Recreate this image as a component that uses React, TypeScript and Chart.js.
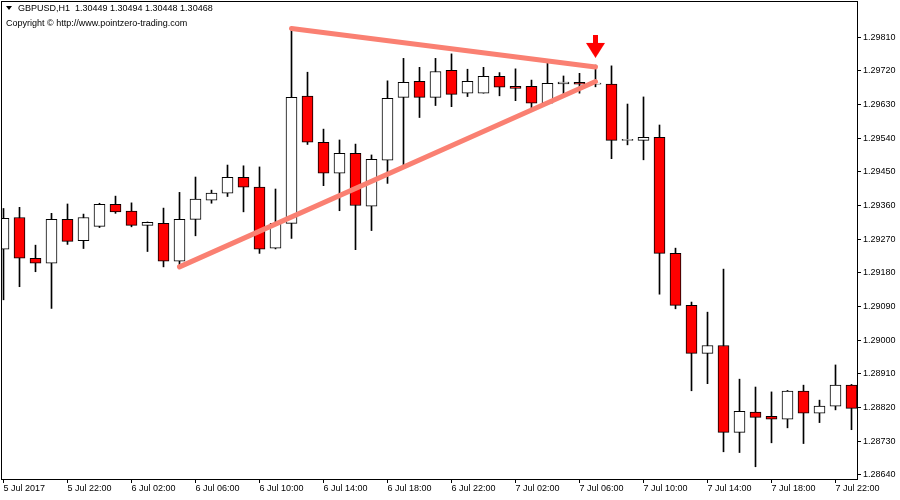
import React, { useEffect, useRef } from 'react';
import { Chart, registerables } from 'chart.js';

Chart.register(...registerables);

// ---- Data (GBPUSD H1, 5 Jul 18:00 -> 7 Jul 23:00) ----
const opens = [
  1.29243, 1.29328, 1.29219, 1.29206, 1.29323, 1.29266, 1.29304, 1.29363, 1.29345, 1.29307,
  1.29312, 1.29211, 1.29323, 1.29374, 1.29393, 1.29435, 1.29409, 1.29246, 1.29312, 1.29652,
  1.29529, 1.29446, 1.29499, 1.29358, 1.29481, 1.29649, 1.29692, 1.29649, 1.29721, 1.29660,
  1.29660, 1.29705, 1.29678, 1.29678, 1.29633, 1.29685, 1.29689, 1.29684, 1.29684, 1.29534,
  1.29534, 1.29542, 1.29232, 1.29093, 1.28965, 1.28986, 1.28754, 1.28808, 1.28797, 1.28789,
  1.28864, 1.28805, 1.28824, 1.28880,
];
const highs = [
  1.29352, 1.29355, 1.29254, 1.29339, 1.29364, 1.29337, 1.29366, 1.29385, 1.29367, 1.29316,
  1.29353, 1.29395, 1.29436, 1.29401, 1.29468, 1.29466, 1.29463, 1.29404, 1.29833, 1.29716,
  1.29564, 1.29535, 1.29524, 1.29495, 1.29693, 1.29753, 1.29729, 1.29753, 1.29765, 1.29724,
  1.29729, 1.29715, 1.29725, 1.29695, 1.29745, 1.29706, 1.29713, 1.29735, 1.29733, 1.29631,
  1.29650, 1.29575, 1.29246, 1.29102, 1.29075, 1.29190, 1.28896, 1.28875, 1.28862, 1.28866,
  1.28880, 1.28840, 1.28934, 1.28882,
];
const lows = [
  1.29108, 1.29143, 1.29183, 1.29085, 1.29256, 1.29245, 1.29301, 1.29339, 1.29303, 1.29237,
  1.29196, 1.29192, 1.29279, 1.29366, 1.29384, 1.29343, 1.29232, 1.29244, 1.29272, 1.29523,
  1.29413, 1.29346, 1.29242, 1.29293, 1.29419, 1.29468, 1.29595, 1.29627, 1.29624, 1.29651,
  1.29660, 1.29653, 1.29640, 1.29612, 1.29633, 1.29651, 1.29660, 1.29677, 1.29485, 1.29522,
  1.29482, 1.29123, 1.29084, 1.28865, 1.28884, 1.28702, 1.28700, 1.28662, 1.28726, 1.28766,
  1.28724, 1.28780, 1.28814, 1.28761,
];
const closes = [
  1.29326, 1.29219, 1.29206, 1.29323, 1.29264, 1.29328, 1.29363, 1.29343, 1.29307, 1.29315,
  1.29211, 1.29323, 1.29377, 1.29393, 1.29435, 1.29409, 1.29243, 1.29312, 1.29649, 1.29529,
  1.29446, 1.29499, 1.29360, 1.29483, 1.29646, 1.29689, 1.29649, 1.29718, 1.29657, 1.29692,
  1.29705, 1.29676, 1.29673, 1.29633, 1.29686, 1.29690, 1.29684, 1.29684, 1.29534, 1.29534,
  1.29542, 1.29232, 1.29093, 1.28965, 1.28986, 1.28754, 1.28810, 1.28794, 1.28789, 1.28864,
  1.28805, 1.28824, 1.28880, 1.28818,
];

// x tick positions (bar index) and labels
const xTickBars = [0, 4, 8, 12, 16, 20, 24, 28, 32, 36, 40, 44, 48, 52];
const xTickLabels = [
  '5 Jul 2017', '5 Jul 22:00', '6 Jul 02:00', '6 Jul 06:00', '6 Jul 10:00', '6 Jul 14:00',
  '6 Jul 18:00', '6 Jul 22:00', '7 Jul 02:00', '7 Jul 06:00', '7 Jul 10:00', '7 Jul 14:00',
  '7 Jul 18:00', '7 Jul 22:00',
];
const yTicks = [
  1.2864, 1.2873, 1.2882, 1.2891, 1.29, 1.2909, 1.2918, 1.2927, 1.2936, 1.2945, 1.2954,
  1.2963, 1.2972, 1.2981,
];

// trendlines (bar index, price)
const upperLineBars = [18, 37];
const upperLinePrices = [1.29833, 1.2973];
const lowerLineBars = [11, 37];
const lowerLinePrices = [1.29196, 1.29691];

// sell arrow
const arrowBars = [37];
const arrowPrices = [1.29785];

const headerText = 'GBPUSD,H1  1.30449 1.30494 1.30448 1.30468';
const copyrightText = 'Copyright \u00A9 http://www.pointzero-trading.com';

const FONT = '"Liberation Sans", Arial, sans-serif';

function zeroPadding(s: any) {
  s.paddingLeft = 0;
  s.paddingRight = 0;
  s.paddingTop = 0;
  s.paddingBottom = 0;
}

export default function App() {
  const ref = useRef<HTMLCanvasElement>(null);

  useEffect(() => {
    const canvas = ref.current;
    if (!canvas) return;

    const arrow = document.createElement('canvas');
    arrow.width = 19;
    arrow.height = 23;
    const a = arrow.getContext('2d')!;
    a.fillStyle = '#FF0000';
    a.fillRect(7, 0, 5, 9);
    a.beginPath();
    a.moveTo(0, 8);
    a.lineTo(19, 8);
    a.lineTo(9.5, 23);
    a.closePath();
    a.fill();

    const idx = opens.map((_, i) => i);
    const wickData = idx.map((i) => ({ x: i, y: [lows[i], highs[i]] }));
    const bodyData = idx.map((i) => ({ x: i, y: [opens[i], closes[i]] }));
    const bodyColors = idx.map((i) => (closes[i] < opens[i] ? '#FF0000' : '#FFFFFF'));

    const framePlugin = {
      id: 'frameAndHeader',
      afterDraw(chart: any) {
        const { ctx, chartArea } = chart;
        ctx.save();
        ctx.fillStyle = '#000';
        // top and left frame lines
        ctx.fillRect(chartArea.left - 1, chartArea.top - 1, chartArea.right - chartArea.left + 2, 1);
        ctx.fillRect(chartArea.left - 1, chartArea.top - 1, 1, chartArea.bottom - chartArea.top + 2);
        // header
        ctx.beginPath();
        ctx.moveTo(6, 6);
        ctx.lineTo(12, 6);
        ctx.lineTo(9, 10);
        ctx.closePath();
        ctx.fill();
        ctx.font = '9px ' + FONT;
        ctx.textBaseline = 'middle';
        ctx.textAlign = 'left';
        ctx.fillText(headerText, 18, 9);
        ctx.fillText(copyrightText, 6, 24);
        ctx.restore();
      },
    };

    const chart = new Chart(canvas, {
      type: 'bar',
      data: {
        datasets: [
          {
            type: 'line',
            data: arrowBars.map((b, i) => ({ x: b, y: arrowPrices[i] })),
            showLine: false,
            pointStyle: arrow as any,
            pointRadius: 10,
            order: 0,
          } as any,
          {
            type: 'line',
            data: upperLineBars.map((b, i) => ({ x: b, y: upperLinePrices[i] })),
            borderColor: '#FA8072',
            borderWidth: 5,
            borderCapStyle: 'round',
            pointRadius: 0,
            order: 1,
          } as any,
          {
            type: 'line',
            data: lowerLineBars.map((b, i) => ({ x: b, y: lowerLinePrices[i] })),
            borderColor: '#FA8072',
            borderWidth: 5,
            borderCapStyle: 'round',
            pointRadius: 0,
            order: 1,
          } as any,
          {
            type: 'bar',
            data: bodyData as any,
            backgroundColor: bodyColors,
            borderColor: '#000000',
            borderWidth: 1,
            borderSkipped: false,
            barThickness: 11,
            minBarLength: 1,
            grouped: false,
            clip: 0,
            order: 2,
          } as any,
          {
            type: 'bar',
            data: wickData as any,
            backgroundColor: '#000000',
            borderWidth: 0,
            barThickness: 1,
            grouped: false,
            clip: 0,
            order: 3,
          } as any,
        ],
      },
      options: {
        responsive: false,
        animation: false,
        events: [],
        layout: { autoPadding: false, padding: { left: 2, top: 2, right: 0, bottom: 0 } },
        plugins: {
          legend: { display: false },
          tooltip: { enabled: false },
          title: { display: false },
        },
        scales: {
          x: {
            type: 'linear',
            position: 'bottom',
            min: -0.09375,
            max: 53.34375,
            offset: false,
            grid: {
              display: true,
              drawOnChartArea: false,
              drawTicks: true,
              tickLength: 4,
              color: '#000',
              lineWidth: 1,
              offset: false,
            },
            border: { display: true, color: '#000', width: 1 },
            ticks: {
              autoSkip: false,
              maxRotation: 0,
              minRotation: 0,
              align: 'start',
              padding: 0,
              color: '#000',
              font: { family: FONT, size: 9 },
              callback: (_v: any, i: number) => xTickLabels[i],
            },
            afterBuildTicks: (s: any) => {
              s.ticks = xTickBars.map((v) => ({ value: v }));
            },
            afterFit: (s: any) => {
              s.height = 21;
              zeroPadding(s);
            },
          } as any,
          y: {
            type: 'linear',
            position: 'right',
            min: 1.286293,
            max: 1.299036,
            beginAtZero: false,
            grid: {
              display: true,
              drawOnChartArea: false,
              drawTicks: true,
              tickLength: 4,
              color: '#000',
              lineWidth: 1,
            },
            border: { display: true, color: '#000', width: 1 },
            ticks: {
              autoSkip: false,
              padding: 2,
              color: '#000',
              font: { family: FONT, size: 9 },
              callback: (v: any) => Number(v).toFixed(5),
            },
            afterBuildTicks: (s: any) => {
              s.ticks = yTicks.map((v) => ({ value: v }));
            },
            afterFit: (s: any) => {
              s.width = 43;
              zeroPadding(s);
            },
          } as any,
        },
      } as any,
      plugins: [framePlugin],
    });

    return () => chart.destroy();
  }, []);

  return (
    <div style={{ position: 'fixed', left: 0, top: 0, width: 900, height: 500, background: '#fff' }}>
      <canvas ref={ref} width={900} height={500} style={{ display: 'block' }} />
    </div>
  );
}
